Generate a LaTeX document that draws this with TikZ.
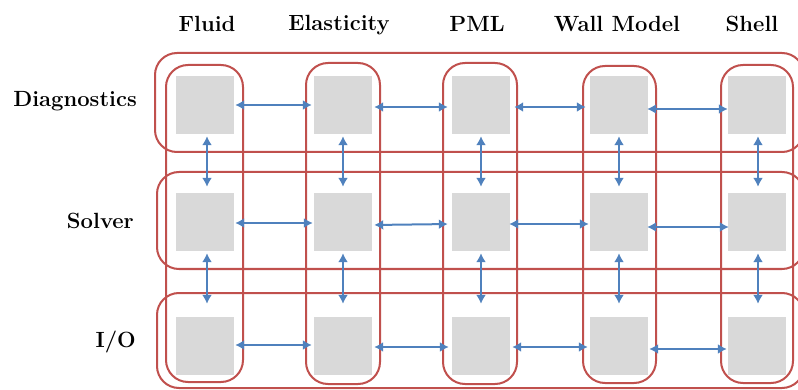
\documentclass[tikz,border=0pt]{standalone}
\usetikzlibrary{arrows.meta}
\definecolor{boxred}{HTML}{C0504D}
\definecolor{arrblue}{HTML}{4F81BD}
\definecolor{sqgray}{HTML}{D9D9D9}
\begin{document}
\begin{tikzpicture}[x=1pt,y=-1pt,
  redbox/.style={draw=boxred, line width=2pt, rounded corners=22pt},
  sq/.style={fill=sqgray, minimum size=58pt, inner sep=0pt},
  arr/.style={arrblue, line width=2pt, {Latex[length=9pt,width=10pt]}-{Latex[length=9pt,width=10pt]}},
  lbl/.style={font=\fontsize{22}{26}\selectfont\bfseries, inner sep=0pt}]
\useasboundingbox (0,0) rectangle (798,390);
\clip (0,0) rectangle (798,390);
% row boxes
\draw[redbox] (155,53) rectangle (804,152);
\draw[redbox] (157,172) rectangle (804,269);
\draw[redbox] (157,293) rectangle (804,388);
% column boxes
\draw[redbox] (166,65) rectangle (243,382);
\draw[redbox] (306,63) rectangle (380,384);
\draw[redbox] (443,63) rectangle (517,384);
\draw[redbox] (583,66) rectangle (656,383);
\draw[redbox] (721,65) rectangle (793,383);
% squares
\foreach \c/\x in {1/205,2/343,3/481,4/619,5/757}{
  \foreach \r/\y in {1/105,2/222,3/346}{
    \node[sq] (r\r c\c) at (\x,\y) {};
  }
}
% labels
\node[lbl, anchor=base] (lfluid) at (207,32) {Fluid};
\node[lbl, anchor=base] (lelas) at (339,31) {Elasticity};
\node[lbl, anchor=base] (lpml) at (477,32) {PML};
\node[lbl, anchor=base] (lwall) at (617,32) {Wall Model};
\node[lbl, anchor=base] (lshell) at (752,32) {Shell};
\node[lbl, anchor=base east] (ldiag) at (137,107) {Diagnostics};
\node[lbl, anchor=base east] (lsolv) at (134,229) {Solver};
\node[lbl, anchor=base east] (lio) at (136,347) {I/O};
% horizontal arrows
\draw[arr, shorten <=1pt, shorten >=2pt] ([yshift=0pt]r1c1.east) -- ([yshift=0pt]r1c2.west);
\draw[arr, shorten <=2pt, shorten >=4pt] ([yshift=-2pt]r1c2.east) -- ([yshift=-2pt]r1c3.west);
\draw[arr, shorten <=4pt, shorten >=4pt] ([yshift=-2pt]r1c3.east) -- ([yshift=-2pt]r1c4.west);
\draw[arr, shorten <=-1pt, shorten >=0pt] ([yshift=-4pt]r1c4.east) -- ([yshift=-4pt]r1c5.west);
\draw[arr, shorten <=1pt, shorten >=1pt] ([yshift=-1pt]r2c1.east) -- ([yshift=-1pt]r2c2.west);
\draw[arr, shorten <=2pt, shorten >=4pt] ([yshift=-3pt]r2c2.east) -- ([yshift=-2pt]r2c3.west);
\draw[arr, shorten <=-1pt, shorten >=1pt] ([yshift=-2pt]r2c3.east) -- ([yshift=-2pt]r2c4.west);
\draw[arr, shorten <=-1pt, shorten >=-1pt] ([yshift=-5pt]r2c4.east) -- ([yshift=-5pt]r2c5.west);
\draw[arr, shorten <=1pt, shorten >=2pt] ([yshift=1pt]r3c1.east) -- ([yshift=1pt]r3c2.west);
\draw[arr, shorten <=2pt, shorten >=3pt] ([yshift=-1pt]r3c2.east) -- ([yshift=-1pt]r3c3.west);
\draw[arr, shorten <=2pt, shorten >=2pt] ([yshift=-1pt]r3c3.east) -- ([yshift=-1pt]r3c4.west);
\draw[arr, shorten <=1pt, shorten >=1pt] ([yshift=-3pt]r3c4.east) -- ([yshift=-3pt]r3c5.west);
% vertical arrows
\foreach \c/\dx in {1/2,2/0,3/0,4/0,5/1}{
  \draw[arr, shorten <=2pt, shorten >=6pt] ([xshift=\dx pt]r1c\c.south) -- ([xshift=\dx pt]r2c\c.north);
  \draw[arr, shorten <=2pt, shorten >=13pt] ([xshift=\dx pt]r2c\c.south) -- ([xshift=\dx pt]r3c\c.north);
}
\end{tikzpicture}
\end{document}
